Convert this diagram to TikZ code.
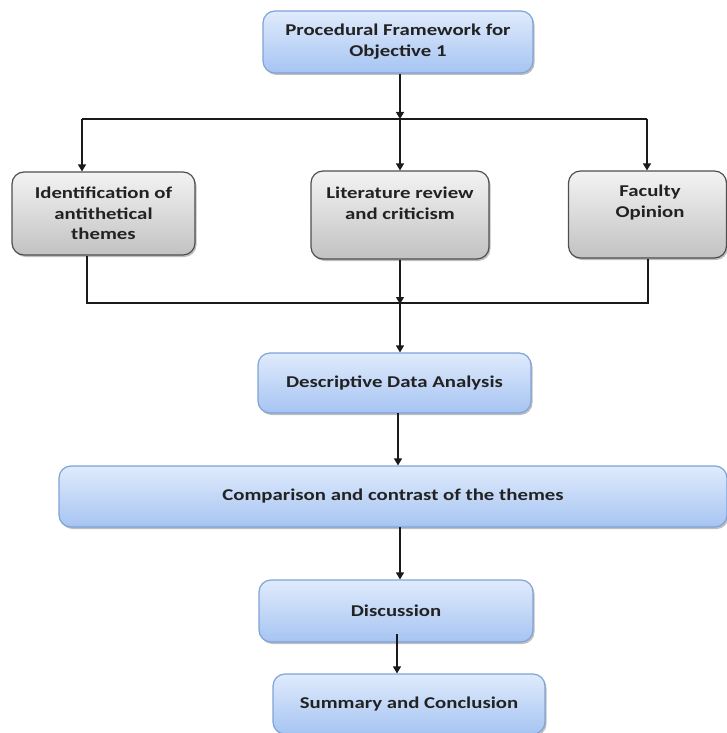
\documentclass[tikz,border=0pt]{standalone}
\usepackage{fontspec}
\setmainfont[FakeStretch=1.26]{Carlito}
\usetikzlibrary{arrows.meta,shadows}
\definecolor{bluetop}{HTML}{E0EBFC}
\definecolor{bluebot}{HTML}{A6C4F2}
\definecolor{blueedge}{HTML}{7FA3D6}
\definecolor{graytop}{HTML}{F3F3F3}
\definecolor{graybot}{HTML}{C2C2C2}
\definecolor{grayedge}{HTML}{4F4F4F}
\definecolor{txtcol}{HTML}{222222}
\definecolor{linecol}{HTML}{1A1A1A}
\tikzset{
  bluebox/.style={draw=blueedge, line width=1.2pt, rounded corners=12pt,
    top color=bluetop, bottom color=bluebot,
    drop shadow={shadow xshift=1.5pt, shadow yshift=-2pt, fill=black, opacity=0.25},
    font=\bfseries\fontsize{16.5}{21}\selectfont, text=txtcol, align=center, inner sep=0pt},
  graybox/.style={draw=grayedge, line width=1.2pt, rounded corners=12pt,
    top color=graytop, bottom color=graybot,
    drop shadow={shadow xshift=1.5pt, shadow yshift=-2pt, fill=black, opacity=0.25},
    font=\bfseries\fontsize{16.5}{20.5}\selectfont, text=txtcol, align=center, inner sep=0pt},
  boxtext/.style={font=\bfseries\fontsize{16.5}{21}\selectfont, text=txtcol, align=center, inner sep=0pt},
  conn/.style={draw=linecol, line width=1.3pt},
  arr/.style={conn, -{Triangle[width=8pt,length=7pt]}}
}
\begin{document}
\begin{tikzpicture}[x=1pt,y=-1pt]
\useasboundingbox (0,0) rectangle (727,733);
% boxes
\node[bluebox, minimum width=270, minimum height=62] (top) at (398,42) {Procedural Framework for\\Objective 1};
\node[graybox, minimum width=183, minimum height=83] (ident) at (103.5,213.5) {Identification of\\antithetical\\themes};
\node[graybox, minimum width=178, minimum height=88] (lit) at (400,215) {};
\node[boxtext] (littext) at (400,203) {Literature review\\and criticism};
\node[graybox, minimum width=158, minimum height=87] (fac) at (647.5,214.5) {};
\node[boxtext] (factext) at (650,203) {Faculty\\Opinion};
\node[bluebox, minimum width=273, minimum height=60] (dda) at (394.5,383) {Descriptive Data Analysis};
\node[bluebox, minimum width=668, minimum height=61] (comp) at (393,496.5) {Comparison and contrast of the themes};
\node[bluebox, minimum width=274, minimum height=62] (disc) at (396,611) {Discussion};
\node[bluebox, minimum width=272, minimum height=60] (summ) at (409,704) {Summary and Conclusion};
% split coordinates
\coordinate (tsplit) at (400,119);
\coordinate (tl) at (82,119);
\coordinate (tr) at (647,119);
\coordinate (jl) at (87,303);
\coordinate (jm) at (400,303);
\coordinate (jr) at (648,303);
% connectors
\draw[arr] (top.south -| tsplit) -- (tsplit);
\draw[conn] (tl) -- (tr);
\draw[arr] (tl) -- (tl |- ident.north);
\draw[arr] (tsplit) -- (tsplit |- lit.north);
\draw[arr] (tr) -- (tr |- fac.north);
\draw[conn] (jl |- ident.south) -- (jl) -- (jr) -- (jr |- fac.south);
\draw[arr] (jm |- lit.south) -- ([yshift=-1pt]jm);
\draw[arr] (jm) -- (jm |- dda.north);
\coordinate (c1) at (398,413);
\draw[arr] (c1) -- (c1 |- comp.north);
\coordinate (c2) at (400,527);
\draw[arr] (c2) -- (c2 |- disc.north);
\coordinate (c3) at (397,634);
\draw[arr] (c3) -- (c3 |- summ.north);
\end{tikzpicture}
\end{document}
